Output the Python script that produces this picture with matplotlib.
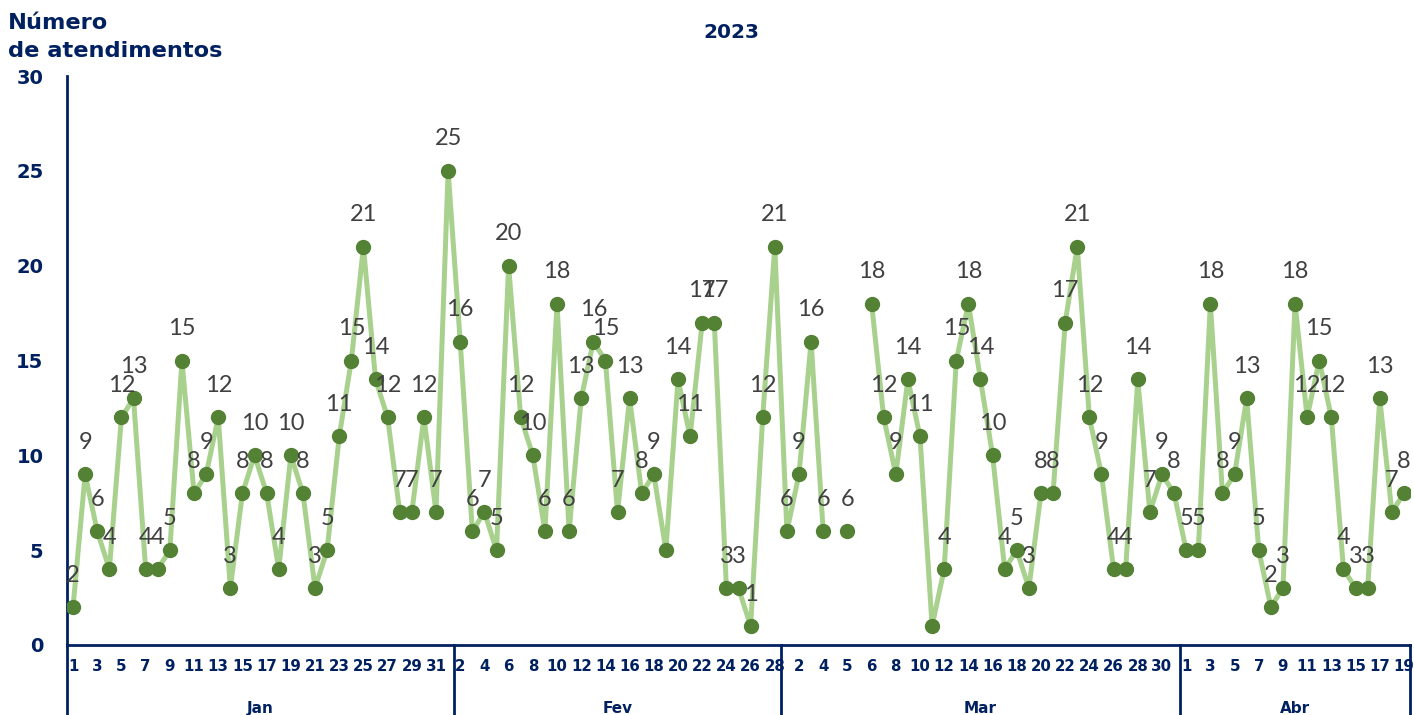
import numpy as np
import matplotlib
matplotlib.use("Agg")
import matplotlib.pyplot as plt
import matplotlib.transforms as mtransforms
from matplotlib.lines import Line2D

# dados (None = dia sem registro)
meses = ["Jan", "Fev", "Mar", "Abr"]

jan_dias = ["1", "2", "3", "4", "5", "6", "7", "8", "9", "10", "11", "12", "13", "14", "15", "16",
            "17", "18", "19", "20", "21", "22", "23", "24", "25", "26", "27", "28", "29", "30", "31", "1"]
jan_valores = [2, 9, 6, 4, 12, 13, 4, 4, 5, 15, 8, 9, 12, 3, 8, 10,
               8, 4, 10, 8, 3, 5, 11, 15, 21, 14, 12, 7, 7, 12, 7, 25]

fev_dias = ["2", "3", "4", "5", "6", "7", "8", "9", "10", "11", "12", "13", "14", "15",
            "16", "17", "18", "19", "20", "21", "22", "23", "24", "25", "26", "27", "28"]
fev_valores = [16, 6, 7, 5, 20, 12, 10, 6, 18, 6, 13, 16, 15, 7,
               13, 8, 9, 5, 14, 11, 17, 17, 3, 3, 1, 12, 21]

mar_dias = ["1", "2", "3", "4", "", "5", "", "6", "7", "8", "9", "10", "11", "12", "13", "14", "15",
            "16", "17", "18", "19", "20", "21", "22", "23", "24", "25", "26", "27", "28", "29", "30", "31"]
mar_valores = [6, 9, 16, 6, None, 6, None, 18, 12, 9, 14, 11, 1, 4, 15, 18, 14,
               10, 4, 5, 3, 8, 8, 17, 21, 12, 9, 4, 4, 14, 7, 9, 8]

abr_dias = ["1", "2", "3", "4", "5", "6", "7", "8", "9", "10", "11", "12", "13", "14",
            "15", "16", "17", "18", "19"]
abr_valores = [5, 5, 18, 8, 9, 13, 5, 2, 3, 18, 12, 15, 12, 4, 3, 3, 13, 7, 8]

# rotulos de dados que nao aparecem no original (indice global)
rotulos_ocultos = [49, 71]

dias = jan_dias + fev_dias + mar_dias + abr_dias
valores = jan_valores + fev_valores + mar_valores + abr_valores
tamanhos = [len(jan_dias), len(fev_dias), len(mar_dias), len(abr_dias)]

y = np.array([np.nan if v is None else v for v in valores], dtype=float)
x = np.arange(len(y))

AZUL = "#002060"
VERDE_CLARO = "#A9D18E"
VERDE = "#548235"
CINZA = "#404040"
FONTE = "DejaVu Sans"

fig = plt.figure(figsize=(14.14, 7.15), dpi=100)
ax = fig.add_axes([67 / 1414, 1 - 645 / 715, (1410 - 67) / 1414, (645 - 76) / 715])

ax.plot(x, y, color=VERDE_CLARO, lw=3.6, marker="o", markersize=10,
        markerfacecolor=VERDE, markeredgecolor=VERDE, zorder=3)

for i, v in enumerate(y):
    if np.isnan(v) or i in rotulos_ocultos:
        continue
    ax.annotate(f"{int(v)}", (i, v), xytext=(0, 23), textcoords="offset points",
                ha="center", va="center", fontsize=17, color=CINZA,
                family=["Lato", "DejaVu Sans"], zorder=4)

ax.set_xlim(-0.5, len(y) - 0.5)
ax.set_ylim(0, 30)
ax.set_yticks(range(0, 31, 5))
ax.tick_params(axis="y", length=0, pad=17, labelsize=14, labelcolor=AZUL)
for t in ax.get_yticklabels():
    t.set_fontweight("bold")
    t.set_family(FONTE)

ax.set_xticks(x)
ax.set_xticklabels([d if i % 2 == 0 else "" for i, d in enumerate(dias)],
                   fontsize=10.8, fontweight="bold", color=AZUL, family=FONTE)
ax.tick_params(axis="x", length=0, pad=10)

for s in ["top", "right"]:
    ax.spines[s].set_visible(False)
ax.spines["left"].set_color(AZUL)
ax.spines["bottom"].set_color(AZUL)
ax.spines["left"].set_linewidth(2)
ax.spines["bottom"].set_linewidth(2)

# niveis dos meses abaixo do eixo
trans = mtransforms.blended_transform_factory(ax.transData, ax.transAxes)
limites = np.concatenate([[0], np.cumsum(tamanhos)]) - 0.5
for b in limites:
    ax.add_line(Line2D([b, b], [0, -0.13], transform=trans, color=AZUL, lw=2, clip_on=False))
for m, a, b in zip(meses, limites[:-1], limites[1:]):
    ax.text((a + b) / 2, -0.112, m, transform=trans, ha="center", va="center",
            fontsize=11, fontweight="bold", color=AZUL, family=FONTE)

fig.text(731 / 1414, 1 - 32 / 715, "2023", ha="center", va="center",
         fontsize=14.5, fontweight="bold", color=AZUL, family=FONTE)
fig.text(8 / 1414, 1 - 37 / 715, "Número\nde atendimentos", ha="left", va="center",
         fontsize=16.2, fontweight="bold", color=AZUL, family=FONTE, linespacing=1.55)

fig.savefig("out.png", dpi=100)
